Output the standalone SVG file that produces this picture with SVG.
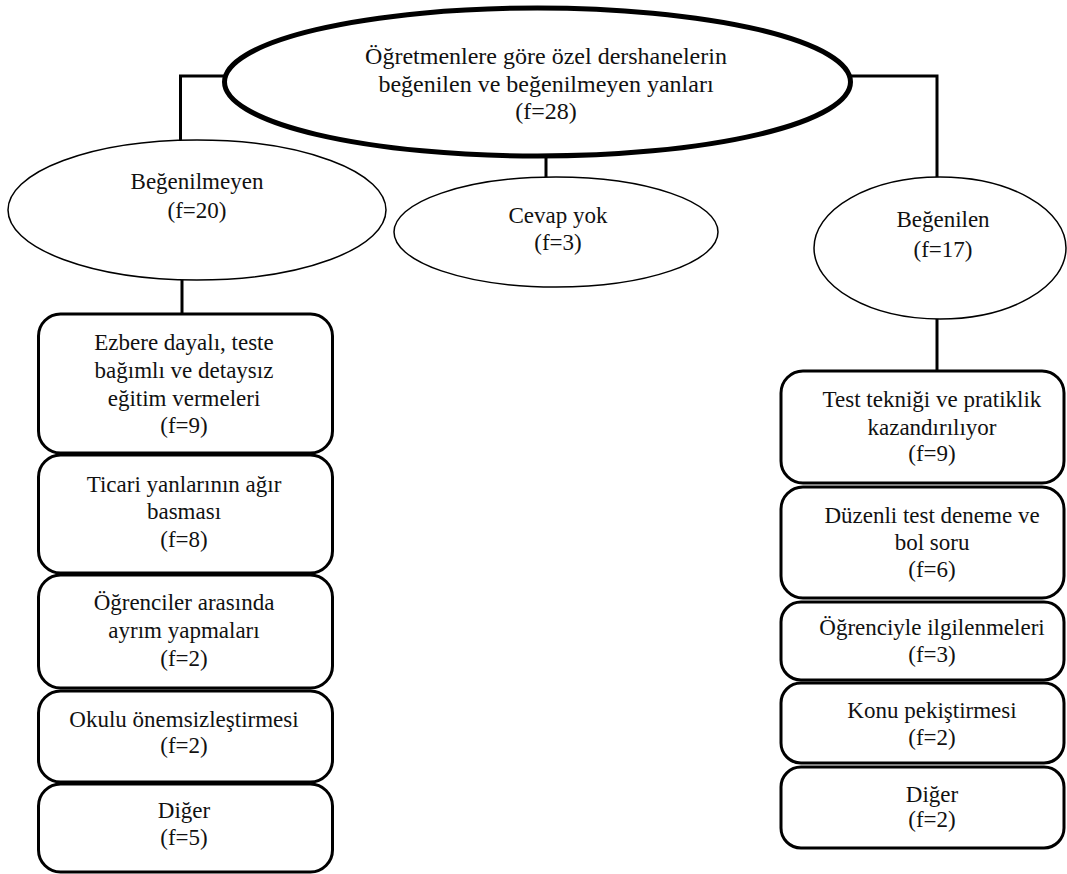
<svg xmlns="http://www.w3.org/2000/svg" width="1067" height="874" viewBox="0 0 1067 874">
<style>
text{font-family:"Liberation Serif","Times New Roman",serif;font-size:23px;fill:#111;text-anchor:middle}
.big{font-size:24px}
.box{fill:#fff;stroke:#000;stroke-width:3}
.el{fill:#fff;stroke:#000;stroke-width:1.5}
.conn{fill:none;stroke:#000;stroke-width:3}
</style>
<rect width="1067" height="874" fill="#fff"/>
<g id="connectors">
<polyline class="conn" points="224,76 180.5,76 180.5,141"/>
<polyline class="conn" points="851,76 937,76 937,178"/>
<line class="conn" x1="546" y1="155" x2="546" y2="178"/>
<line class="conn" x1="182" y1="280" x2="182" y2="314"/>
<line class="conn" x1="937" y1="319" x2="937" y2="371"/>
</g>
<g id="root">
<ellipse cx="537.5" cy="82" rx="313" ry="74" fill="#fff" stroke="#000" stroke-width="5"/>
<text class="big" x="546" y="64">Öğretmenlere göre özel dershanelerin</text>
<text class="big" x="546" y="92">beğenilen ve beğenilmeyen yanları</text>
<text class="big" x="546" y="119">(f=28)</text>
</g>
<g id="begenilmeyen">
<ellipse class="el" cx="197" cy="210" rx="189" ry="70"/>
<text x="197" y="189">Beğenilmeyen</text>
<text x="197" y="218">(f=20)</text>
</g>
<g id="cevapyok">
<ellipse class="el" cx="556" cy="232" rx="162" ry="55"/>
<text x="558" y="223">Cevap yok</text>
<text x="558" y="250">(f=3)</text>
</g>
<g id="begenilen">
<ellipse class="el" cx="940" cy="248" rx="126" ry="71"/>
<text x="943" y="227">Beğenilen</text>
<text x="943" y="257">(f=17)</text>
</g>
<g id="l1">
<rect class="box" x="38.5" y="314" width="294" height="139" rx="22"/>
<text x="184" y="350">Ezbere dayalı, teste</text>
<text x="184" y="378">bağımlı ve detaysız</text>
<text x="184" y="406">eğitim vermeleri</text>
<text x="184" y="433">(f=9)</text>
</g>
<g id="l2">
<rect class="box" x="38.5" y="455" width="294" height="118" rx="22"/>
<text x="184" y="492">Ticari yanlarının ağır</text>
<text x="184" y="519">basması</text>
<text x="184" y="547">(f=8)</text>
</g>
<g id="l3">
<rect class="box" x="38.5" y="575" width="294" height="113" rx="22"/>
<text x="184" y="610">Öğrenciler arasında</text>
<text x="184" y="638">ayrım yapmaları</text>
<text x="184" y="666">(f=2)</text>
</g>
<g id="l4">
<rect class="box" x="38.5" y="691" width="294" height="91" rx="22"/>
<text x="184" y="727">Okulu önemsizleştirmesi</text>
<text x="184" y="753">(f=2)</text>
</g>
<g id="l5">
<rect class="box" x="38.5" y="784" width="294" height="88" rx="22"/>
<text x="184" y="818">Diğer</text>
<text x="184" y="845">(f=5)</text>
</g>
<g id="r1">
<rect class="box" x="781" y="371" width="283" height="112" rx="22"/>
<text x="932" y="407">Test tekniği ve pratiklik</text>
<text x="932" y="435">kazandırılıyor</text>
<text x="932" y="461">(f=9)</text>
</g>
<g id="r2">
<rect class="box" x="781" y="487" width="283" height="111" rx="22"/>
<text x="932" y="523">Düzenli test deneme ve</text>
<text x="932" y="550">bol soru</text>
<text x="932" y="577">(f=6)</text>
</g>
<g id="r3">
<rect class="box" x="781" y="602" width="283" height="78" rx="20"/>
<text x="932" y="635">Öğrenciyle ilgilenmeleri</text>
<text x="932" y="662">(f=3)</text>
</g>
<g id="r4">
<rect class="box" x="781" y="683" width="283" height="80" rx="20"/>
<text x="932" y="718">Konu pekiştirmesi</text>
<text x="932" y="745">(f=2)</text>
</g>
<g id="r5">
<rect class="box" x="781" y="767" width="283" height="81" rx="20"/>
<text x="932" y="802">Diğer</text>
<text x="932" y="827">(f=2)</text>
</g>
</svg>
